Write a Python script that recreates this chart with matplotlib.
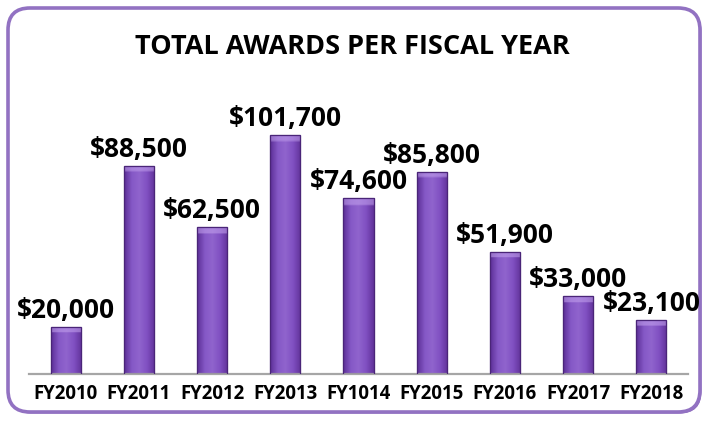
import numpy as np
import matplotlib
matplotlib.use("Agg")
import matplotlib.pyplot as plt
from matplotlib.patches import FancyBboxPatch
from matplotlib.colors import LinearSegmentedColormap, to_rgb

categories = ["FY2010", "FY2011", "FY2012", "FY2013", "FY1014",
              "FY2015", "FY2016", "FY2017", "FY2018"]
awards = [20000, 88500, 62500, 101700, 74600, 85800, 51900, 33000, 23100]
title = "TOTAL AWARDS PER FISCAL YEAR"

FONT = "Open Sans"

fig = plt.figure(figsize=(7.04, 4.21), dpi=100)
fig.patch.set_facecolor("white")

# background frame in pixel coordinates
bg = fig.add_axes([0, 0, 1, 1])
bg.set_xlim(0, 704)
bg.set_ylim(421, 0)
bg.axis("off")
shadow = FancyBboxPatch((9.5, 9.5), 692, 404, boxstyle="round,pad=0,rounding_size=22",
                        facecolor="#8a64bb", edgecolor="none")
bg.add_patch(shadow)
frame = FancyBboxPatch((8, 8), 692, 404, boxstyle="round,pad=0,rounding_size=22",
                       facecolor="white", edgecolor="#9272c2", linewidth=2.6)
bg.add_patch(frame)

ax = fig.add_axes([29 / 704, 47 / 421, 659 / 704, 284 / 421])
ax.set_facecolor("none")
x = np.arange(len(categories))
bars = ax.bar(x, awards, width=0.41, color="#7b4cbc", edgecolor="#4e2a80",
              linewidth=0.8, zorder=2)
ax.set_xlim(-0.5, len(categories) - 0.5)
ax.set_ylim(0, 120600)

# gradient fill for the bars
cmap = LinearSegmentedColormap.from_list(
    "barg", ["#5c2f96", "#8558c6", "#9064cd", "#8050c2", "#62339a"])
grad = cmap(np.linspace(0, 1, 64))[:, :3]
for b in bars:
    x0, y0 = b.get_x(), b.get_y()
    w, h = b.get_width(), b.get_height()
    bevel = 2600
    nrows = 100
    img = np.tile(grad[None, :, :], (nrows, 1, 1)).copy()
    ys = np.linspace(y0 + h, y0, nrows)
    top = ys > (y0 + h - bevel)
    img[top] = img[top] * 0.45 + np.array(to_rgb("#c4a3ee")) * 0.55
    im = ax.imshow(img, extent=(x0, x0 + w, y0, y0 + h), aspect="auto",
                   zorder=2.5, interpolation="bilinear")
    im.set_clip_path(b)
    edge = plt.Rectangle((x0, y0), w, h, fill=False, edgecolor="#4a2578",
                         linewidth=0.9, zorder=3)
    ax.add_patch(edge)

for xi, v in zip(x, awards):
    ax.annotate(f"${v:,}", (xi, v), xytext=(0, 9), textcoords="offset pixels",
                ha="center", va="baseline", fontsize=19, fontweight="bold",
                family=FONT, color="black", zorder=4, annotation_clip=False)

ax.set_xticks(x)
ax.set_xticklabels(categories, fontsize=13.4, fontweight="bold", family=FONT)
ax.tick_params(axis="x", length=0, pad=7.5)
ax.set_yticks([])
for s in ["top", "left", "right"]:
    ax.spines[s].set_visible(False)
ax.spines["bottom"].set_color("#a6a6a6")
ax.spines["bottom"].set_linewidth(1.6)

fig.text(0.5, 1 - 47 / 421, title, ha="center", va="center", fontsize=19.5,
         fontweight="bold", family=FONT, color="black")

fig.savefig("out.png", dpi=100, facecolor="white")
